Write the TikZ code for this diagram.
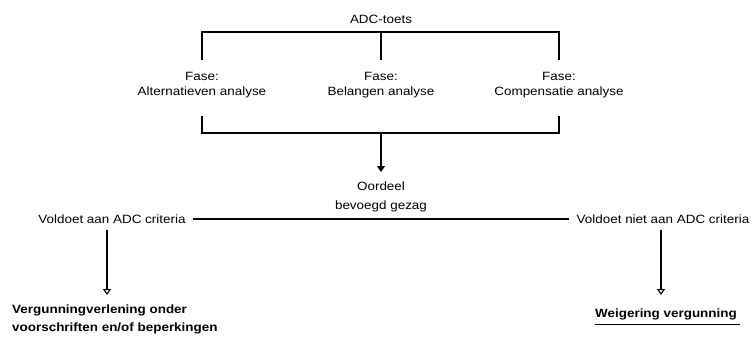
\documentclass[tikz,border=0pt]{standalone}
\usepackage{fontspec}
\setmainfont{Liberation Sans}[FakeStretch=1.12]
\usetikzlibrary{arrows.meta}
\begin{document}
\begin{tikzpicture}[x=1pt,y=-1pt,
  every node/.style={font=\fontsize{12}{15}\selectfont, inner sep=0pt},
  ln/.style={line width=1.1pt, black},
  arrf/.style={ln, -{Triangle[length=6pt,width=8pt]}},
  arro/.style={ln, -{Triangle[open,length=6pt,width=8pt]}},
  fase/.style={align=center, anchor=north},
  crit/.style={inner xsep=7.5pt},
  res/.style={font=\fontsize{12}{18}\selectfont\bfseries}
]
\useasboundingbox (0,0) rectangle (753,338);
\node (adc) at (381,19) {ADC-toets};
\coordinate (tm) at (381,32);
\node[fase] (f1) at (202,72) {Fase:\\Alternatieven analyse};
\node[fase] (f2) at (381,72) {Fase:\\Belangen analyse};
\node[fase] (f3) at (559,72) {Fase:\\Compensatie analyse};
\draw[ln] ([yshift=12pt]f1.north) |- (tm) -| ([yshift=12pt]f3.north);
\draw[ln] (tm) -- ([yshift=12pt]f2.north);
\coordinate (bm) at (381,133);
\draw[ln] ([yshift=-18pt]f1.south) |- (bm) -| ([yshift=-18pt]f3.south);
\node[align=center, anchor=north, font=\fontsize{12}{19}\selectfont] (oord) at (381,181.5) {Oordeel\\bevoegd gezag};
\draw[arrf] (bm) -- ([yshift=9.5pt]oord.north);
\node[crit] (vl) at (112,219) {Voldoet aan ADC criteria};
\node[crit] (vr) at (663,219) {Voldoet niet aan ADC criteria};
\draw[ln] (vl) -- (vr);
\coordinate (lx) at (107,0);
\coordinate (rx) at (661,0);
\node[res, align=left, anchor=north west] (vg) at (12,305) {Vergunningverlening onder\\voorschriften en/of beperkingen};
\node[res, anchor=north] (wv) at (666,309) {Weigering vergunning};
\draw[arro] ([yshift=-6pt]vl.south -| lx) -- ([yshift=10pt]vg.north -| lx);
\draw[arro] ([yshift=-6pt]vr.south -| rx) -- ([yshift=14pt]wv.north -| rx);
\draw[ln] ([yshift=-3.5pt]wv.south west) -- ([yshift=-3.5pt,xshift=3pt]wv.south east);
\end{tikzpicture}
\end{document}
